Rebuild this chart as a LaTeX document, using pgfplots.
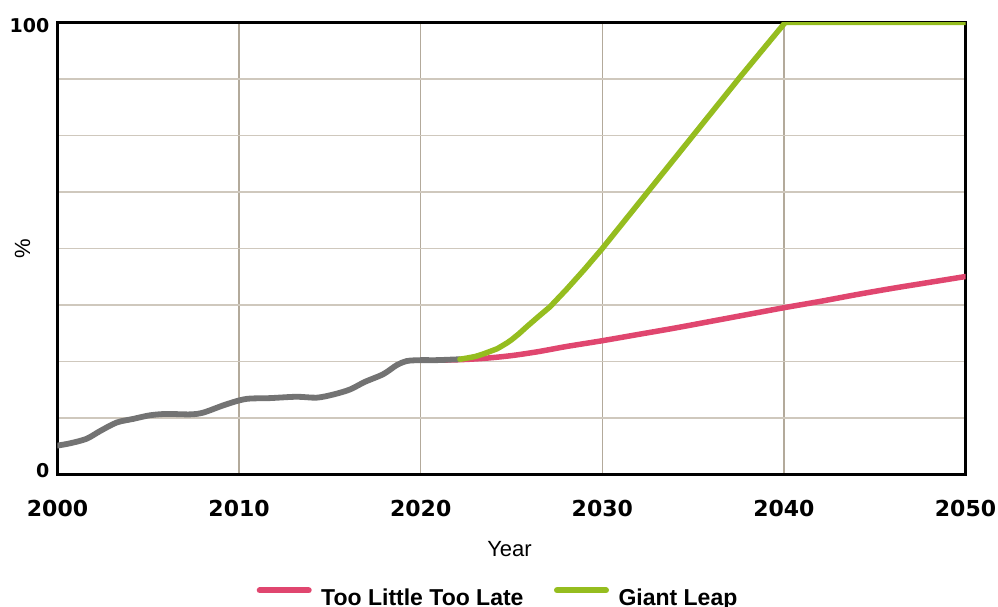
\documentclass[border=0pt]{standalone}
\usepackage{pgfplots}
\pgfplotsset{compat=1.18}
\usepackage{fontspec}
\setmainfont{Liberation Sans}
\newfontfamily\tickfont{DejaVu Sans}
\definecolor{tllate}{HTML}{E0466F}
\definecolor{gleap}{HTML}{95BD1F}
\definecolor{histgray}{HTML}{737373}
\definecolor{hgrid}{HTML}{CFC8BD}
\definecolor{vgrid}{HTML}{B3AA9B}
\begin{document}
\begin{tikzpicture}
\begin{axis}[
  at={(0pt,0pt)}, anchor=south west,
  scale only axis, width=908pt, height=452pt,
  xmin=2000, xmax=2050, ymin=0, ymax=100,
  axis line style={black, line width=2.5pt},
  xtick={2000,2010,2020,2030,2040,2050},
  xticklabels={2000,2010,2020,2030,2040,2050},
  ytick={0.93,99.34}, yticklabels={0,100},
  minor ytick={12.5,25,37.5,50,62.5,75,87.5},
  major tick length=0pt, minor tick length=0pt,
  xmajorgrids=true, ymajorgrids=false, yminorgrids=true,
  major x grid style={vgrid, line width=1.3pt},
  minor y grid style={hgrid, line width=1.3pt},
  xticklabel style={inner sep=0pt, anchor=north, yshift=-25.5pt, font=\tickfont\bfseries\fontsize{22}{22}\selectfont},
  yticklabel style={inner sep=0pt, anchor=east, xshift=-8pt, font=\tickfont\bfseries\fontsize{19}{19}\selectfont},
  xlabel={Year},
  xlabel style={at={(axis description cs:0.4978,0)}, anchor=base, inner sep=0pt, yshift=-82.2pt, font=\fontsize{22}{22}\selectfont},
  ylabel={\%},
  ylabel style={at={(axis description cs:-0.0385,0.4989)}, anchor=center, inner sep=0pt, font=\fontsize{22}{22}\selectfont},
  legend columns=2,
  legend image code/.code={\draw[#1, line width=6pt, line cap=round] (0pt,7pt) -- (49pt,7pt);},
  legend style={at={(axis description cs:0.2192,-0.271)}, anchor=west, draw=none, fill=none, inner sep=0pt,
    font=\bfseries\fontsize{23}{23}\selectfont,
    nodes={inner sep=0pt},
    /tikz/every odd column/.append style={column sep=9.5pt},
    /tikz/every even column/.append style={column sep=30.5pt}},
]
% Too Little Too Late
\addplot[tllate, line width=5.5pt, smooth, line cap=round] coordinates {
 (2021.0,25.3) (2022.16,25.4) (2023.5,25.7) (2025,26.3) (2026.5,27.2) (2028,28.3)
 (2030,29.6) (2032,31.0) (2034,32.4) (2036,33.9) (2038,35.4) (2040,36.9)
 (2042,38.3) (2044,39.8) (2046,41.2) (2048,42.5) (2050,43.8)};
\addlegendentry{Too Little Too Late}
% historical
\addplot[histgray, line width=5.8pt, smooth, line cap=round, forget plot] coordinates {
 (2000.0,6.4) (2000.69,6.9) (2001.6,7.9) (2002.34,9.6) (2003.26,11.5) (2004.17,12.3)
 (2005.09,13.1) (2006.01,13.4) (2007.3,13.3) (2008.03,13.7) (2009.13,15.3) (2010.01,16.4)
 (2010.6,16.8) (2011.7,16.9) (2013.17,17.2) (2014.27,17.0) (2015.19,17.7) (2016.1,18.8)
 (2016.93,20.5) (2017.94,22.2) (2018.68,24.2) (2019.23,25.1) (2019.98,25.3) (2020.88,25.3)
 (2022.16,25.5)};
% Giant Leap
\addplot[gleap, line width=5.5pt, line cap=round, line join=round] coordinates {
 (2022.16,25.5) (2022.6,25.8) (2023.0,26.1) (2023.4,26.6) (2023.8,27.2) (2024.2,27.8)
 (2024.5,28.5) (2024.75,29.1) (2025.0,29.8) (2025.4,31.1) (2025.84,32.7) (2026.5,35.0)
 (2027.12,37.1) (2028.04,41.0) (2029,45.3) (2030,50.0) (2032.1,60.5) (2035,75.0)
 (2037.6,88.0) (2040.07,100) (2050,100)};
\addlegendentry{Giant Leap}
\end{axis}
\pgfresetboundingbox
\path[use as bounding box] (-57.5pt,-132.5pt) rectangle (940.5pt,474.5pt);
\end{tikzpicture}
\end{document}
